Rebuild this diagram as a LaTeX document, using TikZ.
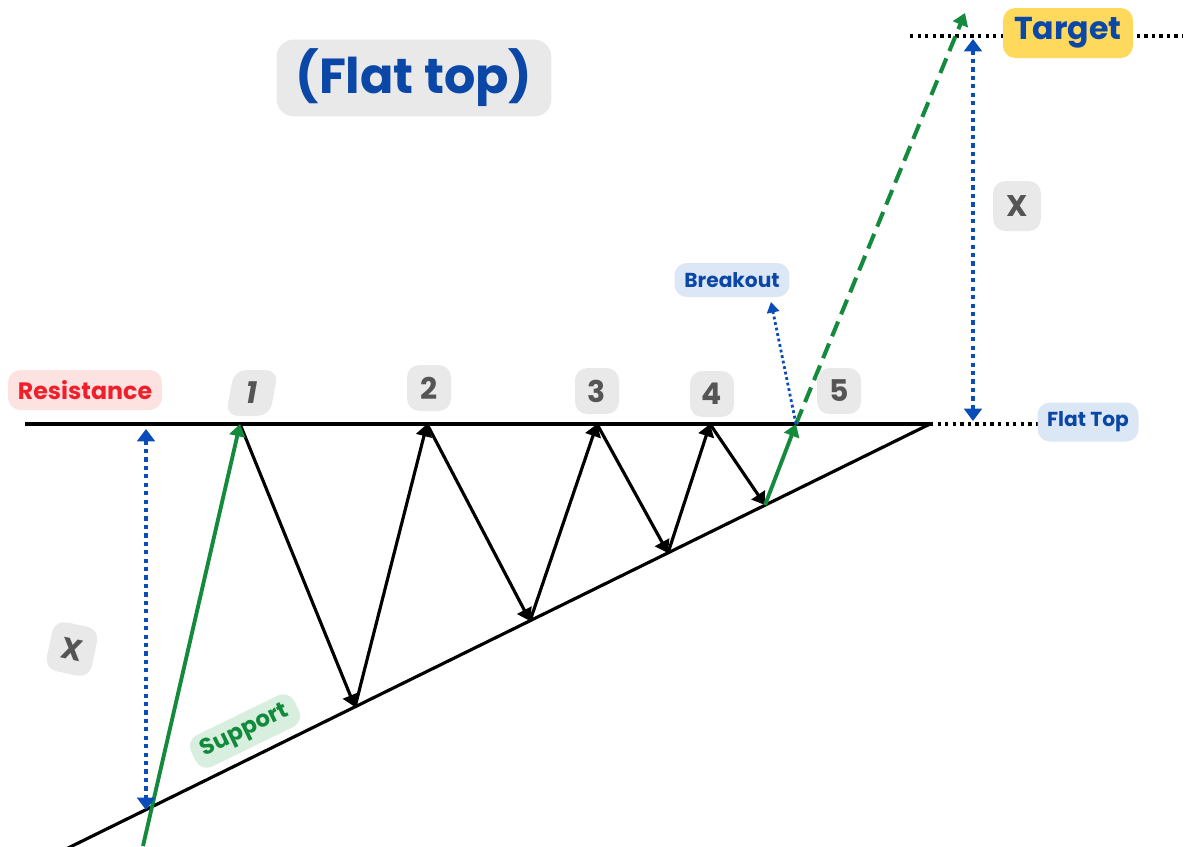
\documentclass[tikz,border=0pt]{standalone}
\usepackage{fontspec}
\setmainfont{Poppins}
\usetikzlibrary{arrows.meta}
\definecolor{tblue}{HTML}{0B47A6}
\definecolor{tred}{HTML}{F0202A}
\definecolor{tgreen}{HTML}{118A3A}
\definecolor{tgray}{HTML}{555555}
\definecolor{bgray}{HTML}{E9E9E9}
\definecolor{bpink}{HTML}{FDE2E2}
\definecolor{bblue}{HTML}{DCE7F6}
\definecolor{byellow}{HTML}{FFD95C}
\definecolor{bgreen}{HTML}{D8EFDF}
\definecolor{dblue}{HTML}{0B4DB8}
\definecolor{agreen}{HTML}{138A3C}
\tikzset{
  lbl/.style={rounded corners=7pt, inner sep=0pt, font=\bfseries, align=center},
  numlbl/.style={lbl, fill=bgray, text=tgray, minimum width=0.88cm, minimum height=0.92cm, font=\bfseries\fontsize{17}{17}\selectfont},
  tip/.style={-{Triangle[length=7pt,width=9pt]}},
  blk/.style={line width=1.8pt, black, tip},
  bdot/.style={line width=2.4pt, dblue, dash pattern=on 2.4pt off 2.4pt},
  kdot/.style={line width=1.9pt, black, dash pattern=on 1.9pt off 2.4pt},
}
\begin{document}
\begin{tikzpicture}[x=0.02cm,y=-0.02cm]
\useasboundingbox (0,0) rectangle (1190,846);
% key points
\coordinate (r0) at (25,424);
\coordinate (apex) at (930,424);
\coordinate (s0) at (66,849);
\coordinate (g0) at (143,846);
\coordinate (p1) at (240,424);
\coordinate (v1) at (355,707);
\coordinate (p2) at (427,424);
\coordinate (v2) at (530,621);
\coordinate (p3) at (597,424);
\coordinate (v3) at (668,553);
\coordinate (p4) at (710,424);
\coordinate (v4) at (765,505);
\coordinate (p5) at (796,424);
\coordinate (tg) at (965,13);
\coordinate (bk) at (771,302);
\coordinate (lxa) at (146,429);
\coordinate (lxb) at (146,810);
\coordinate (rxa) at (973,39);
\coordinate (rxb) at (973,421);
\coordinate (ft1) at (1040,424);
\coordinate (tl0) at (910,36);
\coordinate (tl1) at (1183,36);

% dotted guide lines
\draw[kdot] (apex) -- (ft1);
\draw[kdot] (tl0) -- (tl1);

% resistance and support lines
\draw[line width=1.8pt] (r0) -- (apex);
\draw[line width=1.8pt] (s0) -- (apex);

% zigzag
\draw[blk] (p1) -- (v1);
\draw[blk] (v1) -- (p2);
\draw[blk] (p2) -- (v2);
\draw[blk] (v2) -- (p3);
\draw[blk] (p3) -- (v3);
\draw[blk] (v3) -- (p4);
\draw[blk] (p4) -- (v4);

% green moves
\draw[line width=2.2pt, agreen, tip] (g0) -- (p1);
\draw[line width=2.2pt, agreen, tip] (v4) -- (p5);
\draw[line width=2.3pt, agreen, dash pattern=on 9pt off 4.5pt, -{Triangle[length=7pt,width=9pt]}] (p5) -- (tg);

% blue measures
\draw[bdot, {Triangle[length=7pt,width=10pt]}-{Triangle[length=7pt,width=10pt]}] (lxa) -- (lxb);
\draw[bdot, {Triangle[length=7pt,width=10pt]}-{Triangle[length=7pt,width=10pt]}] (rxa) -- (rxb);
\draw[line width=1.6pt, dblue, dash pattern=on 1.6pt off 1.6pt, -{Triangle[length=6pt,width=7pt]}] (p5) -- (bk);

% labels
\node[lbl, fill=bgray, text=tblue, minimum width=5.5cm, minimum height=1.54cm, rounded corners=10pt, font=\bfseries\fontsize{28}{28}\selectfont] (title) at (414,78) {(Flat top)};
\node[lbl, fill=bpink, text=tred, minimum width=3.08cm, minimum height=0.8cm, font=\bfseries\fontsize{13.5}{13.5}\selectfont] (res) at (85,390) {Resistance};
\node[lbl, fill=bblue, text=tblue, minimum width=2.3cm, minimum height=0.68cm, font=\bfseries\fontsize{11.5}{11.5}\selectfont] (brk) at (732,280) {Breakout};
\node[lbl, fill=bblue, text=tblue, minimum width=2.02cm, minimum height=0.78cm, font=\bfseries\fontsize{11.5}{11.5}\selectfont] (flat) at (1088,422) {Flat Top};
\node[lbl, fill=byellow, text=tblue, minimum width=2.6cm, minimum height=1.0cm, font=\bfseries\fontsize{18}{18}\selectfont] (target) at (1068,33) {Target};
\node[lbl, fill=bgreen, text=tgreen, minimum width=2.3cm, minimum height=0.7cm, rotate=26, font=\bfseries\fontsize{13}{13}\selectfont] (sup) at (245,731) {Support};
\node[numlbl, xslant=0.18] (n1) at (252,393) {1};
\node[numlbl] (n2) at (429,388) {2};
\node[numlbl] (n3) at (597,391) {3};
\node[numlbl] (n4) at (712,394) {4};
\node[numlbl] (n5) at (839,391) {5};
\node[numlbl, rotate=-12, minimum width=0.92cm, minimum height=1.0cm] (xl) at (72,649) {X};
\node[numlbl, minimum width=0.96cm, minimum height=1.0cm] (xr) at (1017,206) {X};
\end{tikzpicture}
\end{document}
